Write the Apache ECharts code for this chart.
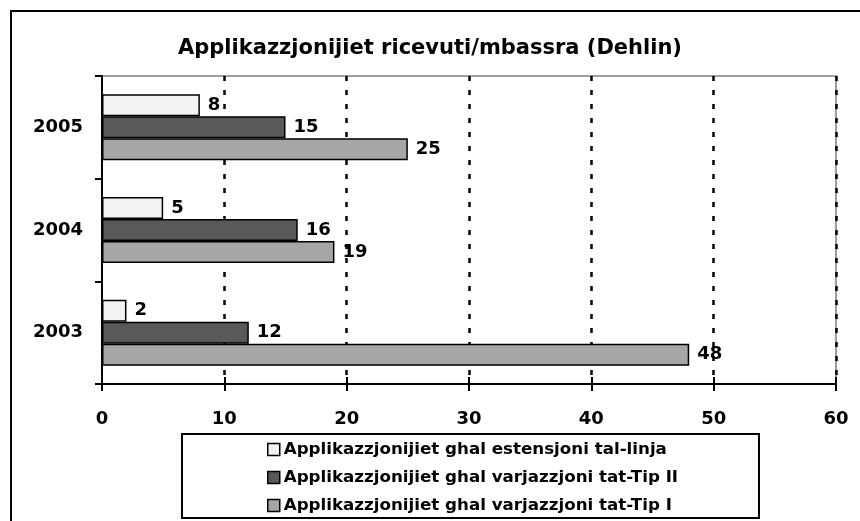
<!DOCTYPE html>
<html>
<head>
<meta charset="utf-8">
<script src="https://cdn.jsdelivr.net/npm/echarts@6/dist/echarts.min.js"></script>
<style>
  html, body { margin: 0; padding: 0; background: #fff; }
  #chart { width: 860px; height: 521px; }
</style>
</head>
<body>
<div id="chart"></div>
<script>
// categories, top to bottom
const years = ['2005', '2004', '2003']
const seriesNames = [
  'Applikazzjonijiet ghal estensjoni tal-linja',
  'Applikazzjonijiet ghal varjazzjoni tat-Tip II',
  'Applikazzjonijiet ghal varjazzjoni tat-Tip I',
]
const extensionVals = [8, 5, 2]
const typeIIVals = [15, 16, 12]
const typeIVals = [25, 19, 48]
const xTicks = [0, 10, 20, 30, 40, 50, 60]

// wide bold face, closer to the stretched Arial of the original
const fontFamily = '"DejaVu Sans", "Liberation Sans", Arial, sans-serif'
const fills = ['#f2f2f2', '#595959', '#a6a6a6']

const chart = echarts.init(document.getElementById('chart'), null, { renderer: 'canvas' })

const makeSeries = (name, data, color) => ({
  name,
  type: 'bar',
  data,
  barWidth: 22,
  barGap: '0%',
  itemStyle: { color, borderColor: '#000', borderWidth: 1.5 },
  label: {
    show: true,
    position: 'right',
    distance: 8,
    color: '#000',
    fontFamily,
    fontWeight: 'bold',
    fontSize: 18,
  },
})

chart.setOption({
  animation: false,
  backgroundColor: '#fff',
  title: {
    text: 'Applikazzjonijiet ricevuti/mbassra (Dehlin)',
    left: 'center',
    top: 33,
    textStyle: { fontFamily, fontWeight: 'bold', fontSize: 21, color: '#000' },
  },
  graphic: [
    // outer frame (right/bottom edges fall outside the picture)
    { type: 'rect', shape: { x: 11, y: 11, width: 900, height: 600 },
      style: { fill: null, stroke: '#000', lineWidth: 2 }, z: -1 },
    // legend box
    { type: 'rect', shape: { x: 182, y: 434, width: 577, height: 84 },
      style: { fill: '#fff', stroke: '#000', lineWidth: 2 }, z: 0 },
  ],
  legend: {
    data: seriesNames,
    orient: 'vertical',
    left: 267,
    top: 441,
    padding: 0,
    itemWidth: 12,
    itemHeight: 12,
    itemGap: 11,
    icon: 'rect',
    itemStyle: { borderColor: '#000', borderWidth: 1.5 },
    textStyle: { fontFamily, fontWeight: 'bold', fontSize: 16.7, color: '#000', padding: [0, 0, 0, -1] },
    z: 5,
  },
  grid: {
    left: 102,
    right: 24,
    top: 76,
    bottom: 137,
    show: true,
    borderColor: '#808080',
    borderWidth: 1.5,
    backgroundColor: 'transparent',
  },
  xAxis: [
    {
      type: 'value',
      min: xTicks[0],
      max: xTicks[xTicks.length - 1],
      interval: 10,
      axisLine: { show: true, lineStyle: { color: '#000', width: 2 } },
      axisTick: { show: true, length: 7, lineStyle: { color: '#000', width: 2 } },
      axisLabel: { margin: 26, color: '#000', fontFamily, fontWeight: 'bold', fontSize: 18 },
      splitLine: {
        show: true,
        showMinLine: false,
        lineStyle: { color: '#000', width: 2.5, type: [5, 9] },
      },
    },
    {
      // inner half of the crossing ticks
      type: 'value',
      position: 'bottom',
      min: xTicks[0],
      max: xTicks[xTicks.length - 1],
      interval: 10,
      axisLine: { show: false },
      axisTick: { show: true, inside: true, length: 7, lineStyle: { color: '#000', width: 2 } },
      axisLabel: { show: false },
      splitLine: { show: false },
    },
  ],
  yAxis: {
    type: 'category',
    data: years,
    inverse: true,
    axisLine: { show: true, lineStyle: { color: '#000', width: 2 } },
    axisTick: { show: true, length: 7, lineStyle: { color: '#000', width: 2 } },
    axisLabel: { margin: 19, color: '#000', fontFamily, fontWeight: 'bold', fontSize: 18 },
    splitLine: { show: false },
  },
  series: [
    makeSeries(seriesNames[0], extensionVals, fills[0]),
    makeSeries(seriesNames[1], typeIIVals, fills[1]),
    makeSeries(seriesNames[2], typeIVals, fills[2]),
  ],
})
</script>
</body>
</html>
